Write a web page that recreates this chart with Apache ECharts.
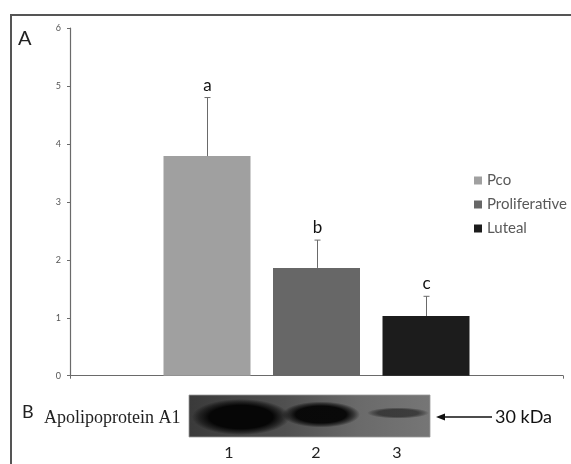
<!DOCTYPE html>
<html><head><meta charset="utf-8">
<script src="https://cdn.jsdelivr.net/npm/echarts@6/dist/echarts.min.js"></script>
<style>html,body{margin:0;padding:0;background:#fff}#c{width:571px;height:464px}</style>
</head><body><div id="c"></div>
<script>
// ---- data ----
const categories = ['Apolipoprotein A1'];
const seriesNames = ['Pco', 'Proliferative', 'Luteal'];
const means = [3.79, 1.86, 1.03];
const errors = [1.01, 0.48, 0.34];
const letters = ['a', 'b', 'c'];
const yTicks = [0, 1, 2, 3, 4, 5, 6];
const laneLabels = ['1', '2', '3'];
const bandIntensity = [1.0, 0.97, 0.5];

// ---- styles ----
const colors = ['#a0a0a0', '#676767', '#1c1c1c'];
const BAR_W = 87, GAP = 22.5;
const SANS = 'Lato, "Open Sans", sans-serif';

const chart = echarts.init(document.getElementById('c'), null, {renderer: 'canvas'});

const barSeries = seriesNames.map((n, i) => ({
  name: n, type: 'bar', data: [means[i]], barWidth: BAR_W, barGap: (GAP / BAR_W * 100) + '%',
  itemStyle: {color: colors[i]}, z: 2
}));

const errSeries = {
  type: 'custom', name: 'err', z: 5,
  data: means.map((m, i) => [0, m, errors[i], i]),
  encode: {x: 0, y: 1},
  renderItem(params, api) {
    const idx = api.value(3);
    const base = api.coord([api.value(0), api.value(1)]);
    const top = api.coord([api.value(0), api.value(1) + api.value(2)]);
    const x = Math.round(base[0] + (idx - 1) * (BAR_W + GAP)) + 0.5;
    return {type: 'group', children: [
      {type: 'line', shape: {x1: x, y1: base[1], x2: x, y2: top[1]}, style: {stroke: '#6a6a6a', lineWidth: 1}},
      {type: 'line', shape: {x1: x - 3, y1: top[1], x2: x + 3, y2: top[1]}, style: {stroke: '#6a6a6a', lineWidth: 1}},
      {type: 'text', style: {text: letters[idx], x: x, y: top[1] - 4, align: 'center', verticalAlign: 'bottom',
        font: '17px ' + SANS, fill: '#111'}}
    ]};
  }
};

// blot graphics
const laneGeom = [
  {cx: 241, cy: 417, rx: 49, ry: 18},
  {cx: 321, cy: 414.5, rx: 39, ry: 13},
  {cx: 398, cy: 413, rx: 31, ry: 5.5}
];
function band(g, a) {
  const c = 'rgba(6,6,6,';
  return {
    type: 'circle', x: g.cx, y: g.cy, scaleX: g.rx / g.ry, scaleY: 1, z: 11,
    shape: {cx: 0, cy: 0, r: g.ry},
    style: {fill: new echarts.graphic.RadialGradient(0.5, 0.5, 0.5, [
      {offset: 0, color: c + a + ')'}, {offset: 0.65, color: c + a + ')'},
      {offset: 0.85, color: c + (a * 0.5) + ')'}, {offset: 1, color: c + '0)'}])}
  };
}
const blot = [
  {type: 'rect', shape: {x: 189, y: 395, width: 241, height: 42}, z: 10,
    style: {fill: new echarts.graphic.LinearGradient(0, 0, 1, 0, [
      {offset: 0, color: '#3a3a3a'}, {offset: 0.4, color: '#505050'}, {offset: 0.7, color: '#6a6a6a'}, {offset: 1, color: '#767676'}]),
      stroke: '#9a9a9a', lineWidth: 0.8}}
].concat(laneGeom.map((g, i) => band(g, bandIntensity[i])));

const texts = [
  {type: 'polyline', shape: {points: [[11, 464], [11, 15], [571, 15]]}, style: {stroke: '#555', lineWidth: 2, fill: null}},
  {type: 'text', x: 18, y: 29, style: {text: 'A', font: '20px ' + SANS, fill: '#222'}},
  {type: 'text', x: 22, y: 403, style: {text: 'B', font: '18px ' + SANS, fill: '#222'}},
  {type: 'text', x: 44, y: 409, style: {text: 'Apolipoprotein A1', font: '18px "Liberation Serif", "Times New Roman", serif', fill: '#222'}},
  {type: 'line', shape: {x1: 442, y1: 417, x2: 492, y2: 417}, style: {stroke: '#111', lineWidth: 1.5}},
  {type: 'polygon', shape: {points: [[436, 417], [445, 413.5], [445, 420.5]]}, style: {fill: '#111'}},
  {type: 'text', x: 495, y: 417, style: {text: '30 kDa', font: '18px ' + SANS, fill: '#111', verticalAlign: 'middle'}}
].concat(laneLabels.map((t, i) => ({
  type: 'text', x: [229, 316, 397][i], y: 453, style: {text: t, font: '16px ' + SANS, fill: '#222', align: 'center', verticalAlign: 'middle'}
})));

chart.setOption({
  animation: false,
  backgroundColor: '#fff',
  grid: {left: 70, right: 8, top: 28, bottom: 88.3, containLabel: false},
  legend: {
    data: seriesNames, orient: 'vertical', left: 469, top: 167.5, icon: 'rect',
    itemWidth: 8, itemHeight: 8, itemGap: 8, selectedMode: false,
    textStyle: {fontFamily: SANS, fontSize: 15, lineHeight: 16, color: '#595959'}
  },
  xAxis: {
    type: 'category', data: categories,
    axisLine: {lineStyle: {color: '#6a6a6a', width: 1.2}},
    axisTick: {show: true, length: 3, lineStyle: {color: '#6a6a6a'}},
    axisLabel: {show: false}
  },
  yAxis: {
    type: 'value', min: yTicks[0], max: yTicks[yTicks.length - 1], interval: 1,
    axisLine: {show: true, lineStyle: {color: '#6a6a6a', width: 1.2}},
    axisTick: {show: true, length: 3, lineStyle: {color: '#6a6a6a'}},
    axisLabel: {fontFamily: SANS, fontSize: 9, color: '#555', margin: 9},
    splitLine: {show: false}
  },
  series: barSeries.concat([errSeries]),
  graphic: blot.concat(texts)
});
</script>
</body></html>
